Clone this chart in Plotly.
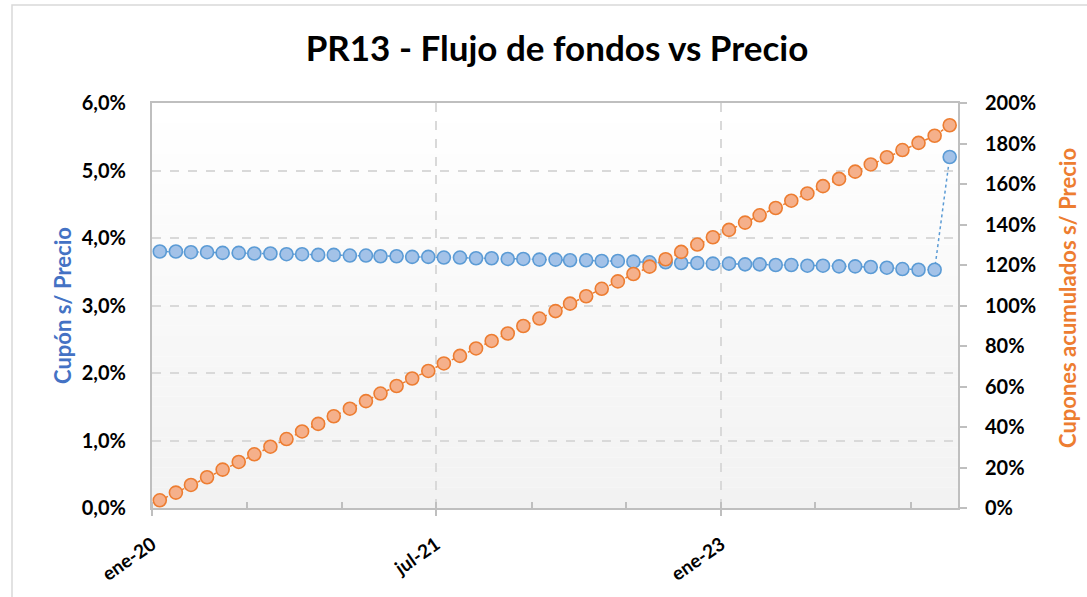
import pandas as pd
import plotly.graph_objects as go

# ---- data ----
months = [d + pd.Timedelta(days=15) for d in pd.date_range("2020-01-01", periods=51, freq="MS")]

cupon_s_precio = [
    3.80, 3.80, 3.79, 3.79, 3.78, 3.78, 3.77, 3.77, 3.76, 3.76,
    3.75, 3.75, 3.74, 3.74, 3.73, 3.73, 3.72, 3.72, 3.71, 3.71,
    3.70, 3.70, 3.69, 3.69, 3.68, 3.68, 3.67, 3.67, 3.66, 3.66,
    3.65, 3.64, 3.64, 3.63, 3.63, 3.62, 3.62, 3.61, 3.61, 3.60,
    3.60, 3.59, 3.59, 3.58, 3.58, 3.57, 3.56, 3.54, 3.53, 3.53,
    5.20,
]

cupones_acumulados = [
    3.80, 7.60, 11.39, 15.18, 18.96, 22.74, 26.51, 30.28, 34.04, 37.80,
    41.55, 45.30, 49.04, 52.78, 56.51, 60.24, 63.96, 67.68, 71.39, 75.10,
    78.80, 82.50, 86.19, 89.88, 93.56, 97.24, 100.91, 104.58, 108.24, 111.90,
    115.55, 119.19, 122.83, 126.46, 130.09, 133.71, 137.33, 140.94, 144.55, 148.15,
    151.75, 155.34, 158.93, 162.51, 166.09, 169.66, 173.22, 176.76, 180.29, 183.82,
    189.02,
]

x_tickvals = ["2020-01-01", "2021-07-01", "2023-01-01"]
x_ticktext = ["ene-20", "jul-21", "ene-23"]

title_text = "PR13 - Flujo de fondos vs Precio"
left_title = "Cupón s/ Precio"
right_title = "Cupones acumulados s/ Precio"

# ---- layout geometry ----
W, H = 1087, 597
ML, MR, MT, MB = 152, 129, 103, 89
PW, PH = W - ML - MR, H - MT - MB

def px_x(px):
    return (px - ML) / PW

def px_y(py):
    return (H - MB - py) / PH

FONT = "Lato"
BLUE_LINE = "#5b9bd5"
BLUE_FILL = "#a3c2e8"
ORANGE_LINE = "#ed7d31"
ORANGE_FILL = "#f5b08b"
GRID = "#d9d9d9"
AXIS = "#bfbfbf"
TICKFONT = dict(family=FONT, size=20, color="black", weight="bold")

fig = go.Figure()

fig.add_trace(go.Scatter(
    x=months, y=cupon_s_precio, mode="lines+markers", name=left_title,
    line=dict(color=BLUE_LINE, width=1.5, dash="dot"),
    marker=dict(size=13, color=BLUE_FILL, line=dict(color=BLUE_LINE, width=1.6)),
    yaxis="y", showlegend=False, cliponaxis=False,
))
fig.add_trace(go.Scatter(
    x=months, y=cupones_acumulados, mode="lines+markers", name=right_title,
    line=dict(color=ORANGE_LINE, width=1.5, dash="dot"),
    marker=dict(size=13, color=ORANGE_FILL, line=dict(color=ORANGE_LINE, width=1.6)),
    yaxis="y2", showlegend=False, cliponaxis=False,
))

# gradient background strips
shapes = []
N = 40
for i in range(N):
    t = (i + 0.5) / N  # 0 top -> 1 bottom
    v = round(255 - (255 - 242) * t)
    col = f"rgb({v},{v},{v})"
    shapes.append(dict(
        type="rect", xref="x domain", yref="y domain",
        x0=0, x1=1, y0=1 - (i + 1) / N, y1=1 - i / N,
        fillcolor=col, line=dict(width=0), layer="below",
    ))
# outer chart frame
shapes.append(dict(
    type="rect", xref="paper", yref="paper",
    x0=px_x(12), x1=px_x(1095), y0=px_y(605), y1=px_y(5),
    line=dict(color="#d9d9d9", width=1.5), fillcolor="rgba(0,0,0,0)", layer="below",
))

fig.update_layout(
    width=W, height=H,
    margin=dict(l=ML, r=MR, t=MT, b=MB, autoexpand=False),
    paper_bgcolor="white", plot_bgcolor="white",
    separators=",.",
    font=dict(family=FONT, color="black"),
    title=dict(text=f"<b>{title_text}</b>", x=557 / W, xanchor="center",
               y=1 - 49 / H, yanchor="middle", automargin=False,
               font=dict(family=FONT, size=35, color="black")),
    shapes=shapes,
    xaxis=dict(
        type="date", range=["2020-01-01", "2024-04-01"], automargin=False,
        tickvals=x_tickvals, ticktext=x_ticktext, tickangle=-35,
        tickfont=dict(family=FONT, size=19, color="black", weight="bold"),
        showgrid=True, gridcolor=GRID, griddash="dash", gridwidth=1.5,
        showline=True, linecolor=AXIS, linewidth=2, mirror=True,
        ticks="outside", ticklen=6, tickcolor=AXIS, tickwidth=1.5,
        minor=dict(dtick="M6", tick0="2020-01-01", ticks="inside", ticklen=6,
                   tickcolor=AXIS, tickwidth=1.5, showgrid=False),
        zeroline=False, ticklabelstandoff=10,
    ),
    yaxis=dict(
        range=[0, 6], dtick=1, tickformat=".1f", ticksuffix="%", automargin=False,
        tickfont=TICKFONT,
        showgrid=True, gridcolor=GRID, griddash="dash", gridwidth=1.5,
        showline=True, linecolor=AXIS, linewidth=2, mirror=False,
        ticks="", zeroline=False, ticklabelstandoff=20,
    ),
    yaxis2=dict(
        range=[0, 200], dtick=20, tickformat=".0f", ticksuffix="%", automargin=False,
        overlaying="y", side="right",
        tickfont=TICKFONT,
        showgrid=False, showline=True, linecolor=AXIS, linewidth=2,
        ticks="outside", ticklen=7, tickcolor=AXIS, tickwidth=1.5,
        zeroline=False, ticklabelstandoff=14,
    ),
    annotations=[
        dict(text=f"<b>{left_title}</b>", xref="paper", yref="paper",
             x=px_x(62), y=px_y(306), textangle=-90, showarrow=False,
             xanchor="center", yanchor="middle",
             font=dict(family=FONT, size=22, color="#4472c4")),
        dict(text=f"<b>{right_title}</b>", xref="paper", yref="paper",
             x=px_x(1067), y=px_y(298), textangle=-90, showarrow=False,
             xanchor="center", yanchor="middle",
             font=dict(family=FONT, size=22, color=ORANGE_LINE)),
    ],
)

fig.write_html("out.html", config={"displayModeBar": False},
               post_script="document.body.style.margin='0px';")
